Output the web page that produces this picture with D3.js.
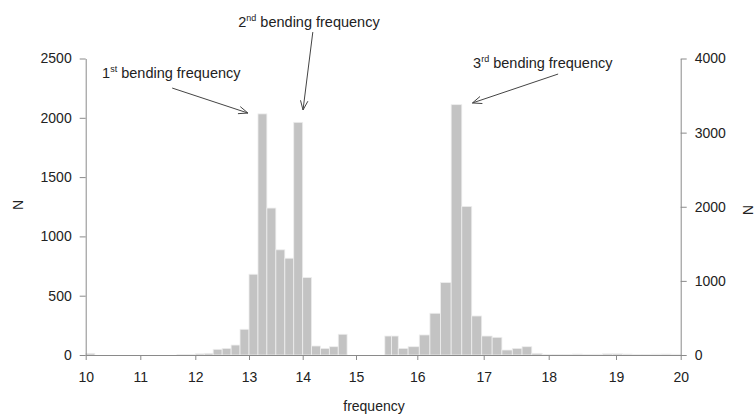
<!DOCTYPE html>
<html><head><meta charset="utf-8">
<script src="https://cdn.jsdelivr.net/npm/d3@7"></script>
<style>
body{margin:0;background:#fff}
svg{display:block}
text{font-family:"Liberation Sans",Arial,sans-serif;fill:#222}
</style>
</head><body>
<svg id="c" width="755" height="415"></svg>
<script>
// ---- data ----
const xTicks = [10, 11, 12, 13, 14, 15, 16, 17, 18, 19, 20];
const leftTicks = [0, 500, 1000, 1500, 2000, 2500];
const rightTicks = [0, 1000, 2000, 3000, 4000];

// first two bending modes (bin edges in frequency, counts N)
const lowBinEdges = [10, 10.167, 10.333, 10.5, 10.667, 10.833, 11, 11.167, 11.333, 11.5, 11.667, 11.833,
  12, 12.167, 12.333, 12.5, 12.667, 12.833, 13, 13.167, 13.333, 13.5, 13.667, 13.833,
  14, 14.167, 14.333, 14.5, 14.667, 14.833, 15];
const lowCounts = [14, 0, 0, 0, 0, 0, 0, 0, 0, 0, 5, 4,
  10, 14, 48, 56, 84, 217, 681, 2033, 1239, 887, 816, 1962,
  653, 76, 56, 70, 175, 0];

// third bending mode
const highBinEdges = [15.47, 15.58, 15.69, 15.85, 16.03, 16.19, 16.35, 16.51, 16.67, 16.82, 16.97,
  17.13, 17.28, 17.44, 17.59, 17.74, 17.90, 18.05, 18.2, 18.35, 18.5, 18.65, 18.8, 18.95,
  19.1, 19.25, 19.4, 19.55, 19.7, 19.85, 20.0];
const highCounts = [160, 160, 56, 70, 169, 352, 611, 2111, 1253, 329, 160,
  149, 42, 56, 70, 14, 5, 3, 3, 8, 3, 6, 10, 10,
  8, 5, 3, 7, 8, 6];

// annotations: ordinal, suffix, text pos (freq, N), arrow tail (freq, N), arrow tip (freq, N)
const annLabels = ["1", "2", "3"];
const annSuffix = ["st", "nd", "rd"];
const annText = [[10.30, 2336], [12.80, 2766], [16.84, 2420]];
const annTail = [[11.58, 2251], [14.19, 2723], [18.14, 2369]];
const annTip = [[12.98, 2040], [14.006, 2066], [16.83, 2125]];

// ---- layout ----
const svg = d3.select("#c");
const y0 = 355, yTop = 58.5;
// the reference's x axis is not evenly spaced: piecewise-linear through tick positions
const xPix = [85.7, 140.3, 195.3, 249, 302.7, 356, 417.3, 483.7, 548.7, 616, 680.7];
const x = d3.scaleLinear().domain(xTicks).range(xPix);
const yL = d3.scaleLinear().domain([0, 2500]).range([y0, yTop]);
const yR = d3.scaleLinear().domain([0, 4000]).range([y0, yTop]);

function bins(edges, counts) {
  return counts.map((c, i) => ({lo: edges[i], hi: edges[i + 1], n: c}));
}
const allBins = bins(lowBinEdges, lowCounts).concat(bins(highBinEdges, highCounts)).filter(d => d.n > 0);

svg.append("g").selectAll("rect").data(allBins).join("rect")
  .attr("x", d => x(d.lo))
  .attr("width", d => Math.max(0.5, x(d.hi) - x(d.lo)))
  .attr("y", d => yL(d.n))
  .attr("height", d => y0 - yL(d.n))
  .attr("fill", "#c3c3c3")
  .attr("stroke", "#eeeeee")
  .attr("stroke-width", 0.8);

const axisColor = "#8a8a8a";
function styleAxis(g) {
  g.selectAll("path,line").attr("stroke", axisColor).attr("stroke-width", 1);
  g.selectAll("text").attr("font-size", 14).attr("fill", "#222")
    .attr("font-family", '"Liberation Sans",Arial,sans-serif');
}
const fmt = d3.format("d");

svg.append("g").attr("transform", `translate(${xPix[0]},0)`)
  .call(d3.axisLeft(yL).tickValues(leftTicks).tickFormat(fmt).tickSize(6).tickSizeOuter(0).tickPadding(8))
  .call(styleAxis);

svg.append("g").attr("transform", `translate(${xPix[xPix.length - 1]},0)`)
  .call(d3.axisRight(yR).tickValues(rightTicks).tickFormat(fmt).tickSize(6).tickSizeOuter(0).tickPadding(8))
  .call(styleAxis);

svg.append("g").attr("transform", `translate(0,${y0})`)
  .call(d3.axisBottom(x).tickValues(xTicks).tickFormat(fmt).tickSize(5).tickSizeOuter(0).tickPadding(12))
  .call(styleAxis);

// axis titles
svg.append("text").attr("x", 374).attr("y", 411).attr("text-anchor", "middle")
  .attr("font-size", 14).text("frequency");
svg.append("text").attr("transform", "translate(23,205) rotate(-90)").attr("text-anchor", "middle")
  .attr("font-size", 14).text("N");
svg.append("text").attr("transform", "translate(743,210) rotate(90)").attr("text-anchor", "middle")
  .attr("font-size", 14).text("N");

// annotations
const ann = svg.append("g");
annLabels.forEach((lab, i) => {
  const t = ann.append("text")
    .attr("x", x(annText[i][0])).attr("y", yL(annText[i][1]))
    .attr("font-size", 14.5);
  t.append("tspan").text(lab);
  t.append("tspan").attr("font-size", 9).attr("dy", -6).text(annSuffix[i]);
  t.append("tspan").attr("dy", 6).text(" bending frequency");

  const x1 = x(annTail[i][0]), y1 = yL(annTail[i][1]);
  const x2 = x(annTip[i][0]), y2 = yL(annTip[i][1]);
  ann.append("line").attr("x1", x1).attr("y1", y1).attr("x2", x2).attr("y2", y2)
    .attr("stroke", "#444").attr("stroke-width", 1);
  const ang = Math.atan2(y2 - y1, x2 - x1), L = 10, a = 0.38;
  const p = d3.path();
  p.moveTo(x2 - L * Math.cos(ang - a), y2 - L * Math.sin(ang - a));
  p.lineTo(x2, y2);
  p.lineTo(x2 - L * Math.cos(ang + a), y2 - L * Math.sin(ang + a));
  ann.append("path").attr("d", p.toString()).attr("fill", "none")
    .attr("stroke", "#444").attr("stroke-width", 1);
});
</script>
</body></html>
